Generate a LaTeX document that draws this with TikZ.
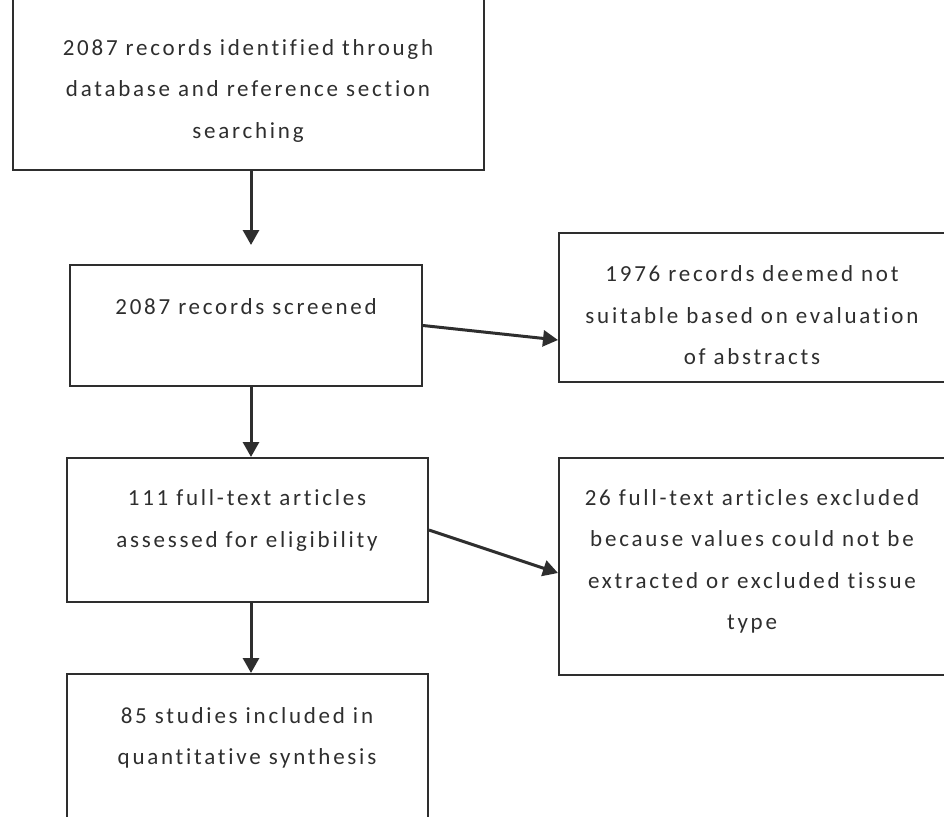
\documentclass[tikz,border=0pt]{standalone}
\usepackage{fontspec}
\setmainfont{Carlito}[LetterSpace=12,Ligatures={NoCommon,NoRare,NoContextual}]
\usetikzlibrary{arrows.meta}
\definecolor{ink}{HTML}{2E2E2E}
\begin{document}
\begin{tikzpicture}[x=1pt,y=-1pt,
  box/.style={draw=ink, line width=2pt, rectangle, inner sep=0pt},
  txt/.style={text=ink, align=center, font=\fontsize{23}{41.5}\selectfont, anchor=base, inner sep=0pt},
  arr/.style={draw=ink, line width=3pt, -{Triangle[length=15pt,width=16pt]}}]
\useasboundingbox (0,0) rectangle (944,816);
% boxes
\node[box, minimum width=471pt, minimum height=182pt] (b1) at (248.5,79) {};
\node[box, minimum width=352pt, minimum height=121pt] (b2) at (246,325.5) {};
\node[box, minimum width=387pt, minimum height=149pt] (b3) at (752.5,307.5) {};
\node[box, minimum width=361pt, minimum height=144pt] (b4) at (247.5,530) {};
\node[box, minimum width=387pt, minimum height=217pt] (b5) at (752.5,566.5) {};
\node[box, minimum width=361pt, minimum height=156pt] (b6) at (247.5,752) {};
% texts (anchor = baseline of the last line)
\node[txt] (t1) at (248,138) {2087 records identified through\\database and reference section\\searching};
\node[txt] (t2) at (246,314) {2087 records screened};
\node[txt] (t3) at (752,364.5) {1976 records deemed not\\suitable based on evaluation\\of abstracts};
\node[txt] (t4) at (247,547) {111 full-text articles\\assessed for eligibility};
\node[txt] (t5) at (752,629.5) {26 full-text articles excluded\\because values could not be\\extracted or excluded tissue\\type};
\node[txt] (t6) at (247,764.5) {85 studies included in\\quantitative synthesis};
% connectors
\coordinate (ax) at (251,0);
\draw[arr, shorten >=19pt] (b1.south -| ax) -- (b2.north -| ax);
\draw[arr] (b2.south -| ax) -- (b4.north -| ax);
\draw[arr] (b4.south -| ax) -- (b6.north -| ax);
\draw[arr] (b2.east) -- ([yshift=-32.5pt]b3.west);
\draw[arr] (b4.east) -- ([yshift=-6.5pt]b5.west);
\end{tikzpicture}
\end{document}
